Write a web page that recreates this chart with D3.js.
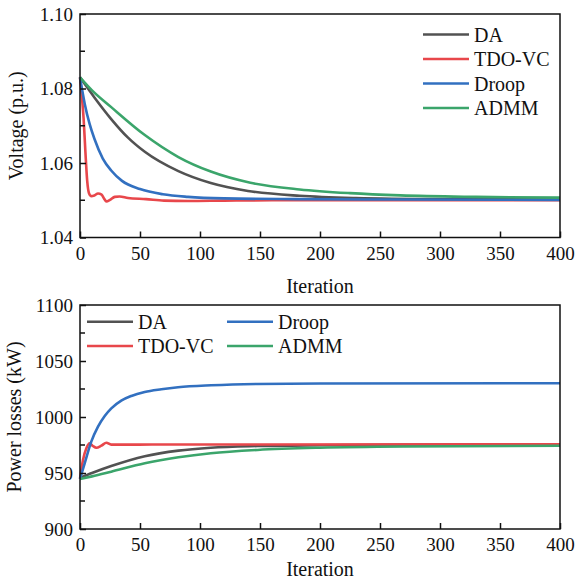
<!DOCTYPE html>
<html>
<head>
<meta charset="utf-8">
<script src="https://cdn.jsdelivr.net/npm/d3@7"></script>
</head>
<body style="margin:0">
<div id="chart"></div>
<script>
var svgWidth = 576;
var svgHeight = 581;
var fontName = "Liberation Serif";

// series names and colours
var names = ["DA", "TDO-VC", "Droop", "ADMM"];
var colors = ["#525252", "#e8474b", "#3270c0", "#3ba56b"];

// voltage (p.u.): [iteration, value]
var voltDA = [[0,1.0830],[12,1.0776],[26,1.0718],[40,1.0668],[54,1.0630],[82,1.0578],[109,1.0546],[140,1.0525],[183,1.0512],[230,1.0506],[300,1.0503],[400,1.0502]];
var voltTDO = [[0,1.083],[1.5,1.078],[3,1.072],[4.5,1.063],[6,1.0552],[7.5,1.0519],[9.5,1.0511],[12,1.0513],[15,1.0518],[18,1.0515],[20,1.0505],[22,1.0497],[25,1.0501],[29,1.0509],[33,1.0510],[40,1.0506],[55,1.0503],[70,1.0499],[90,1.0498],[120,1.0499],[160,1.0500],[250,1.0500],[400,1.0500]];
var voltDroop = [[0,1.0830],[4,1.0758],[8,1.0705],[12,1.0665],[19,1.0612],[26,1.0580],[35,1.0552],[50,1.0530],[69,1.0516],[90,1.0509],[120,1.0505],[180,1.0503],[260,1.0502],[400,1.0501]];
var voltADMM = [[0,1.0830],[10,1.0795],[26,1.0750],[54,1.0675],[82,1.0616],[109,1.0577],[142,1.0547],[183,1.0529],[225,1.0519],[267,1.0513],[330,1.0509],[400,1.0507]];

// power losses (kW)
var lossDA = [[0,945.8],[10,950],[26,956.2],[54,965],[82,970],[109,972.6],[148,974.1],[200,974.8],[270,975.2],[400,975.4]];
var lossTDO = [[0,945],[2.5,961.6],[5.3,972],[8.1,976.5],[10.8,974.1],[13.6,972.6],[17.8,974.4],[22,977],[26,975.3],[35,975.3],[60,975.4],[150,975.5],[400,975.6]];
var lossDroop = [[0,944.8],[3.9,958.6],[9.4,978],[15,991.4],[20.6,1000.9],[26.1,1007.7],[34.4,1014.6],[42.8,1018.8],[53.9,1022.3],[67.8,1024.7],[81.7,1026.5],[109.4,1028.3],[148,1029.5],[200,1029.9],[400,1030.2]];
var lossADMM = [[0,944.6],[10,947],[26,951.2],[54,958.7],[82,964],[109,967.6],[148,970.6],[200,972.6],[270,973.7],[400,974.3]];

var xTicks = [0, 50, 100, 150, 200, 250, 300, 350, 400];
var voltTicks = [1.04, 1.06, 1.08, 1.10];
var voltMinor = [1.05, 1.07, 1.09];
var lossTicks = [900, 950, 1000, 1050, 1100];
var lossMinor = [925, 975, 1025, 1075];

var svg = d3.select("#chart")
    .append("svg")
    .attr("width", svgWidth)
    .attr("height", svgHeight);

// every text gets the serif face explicitly
function serifText(sel, size) {
    sel.attr("font-family", fontName)
        .attr("font-size", size)
        .attr("fill", "#111");
}

function drawPanel(opt) {
    var x = d3.scaleLinear().domain([0, 400]).range([80, 560]);
    var y = d3.scaleLinear().domain(opt.domain).range([opt.bottom, opt.top]);
    var g = svg.append("g");

    // curves
    var line = d3.line()
        .x(d => x(d[0]))
        .y(d => y(d[1]))
        .curve(d3.curveMonotoneX);

    opt.series.forEach(function(s, i) {
        g.append("path")
            .datum(s)
            .attr("d", line)
            .attr("fill", "none")
            .attr("stroke", colors[i])
            .attr("stroke-width", 2.6)
            .attr("stroke-linejoin", "round");
    });

    // frame
    g.append("rect")
        .attr("x", 80).attr("y", opt.top)
        .attr("width", 480).attr("height", opt.bottom - opt.top)
        .attr("fill", "none").attr("stroke", "#111").attr("stroke-width", 1.5);

    // x axis, ticks pointing inward
    var xAxis = g.append("g")
        .attr("transform", `translate(0, ${opt.bottom})`)
        .call(d3.axisBottom(x).tickValues(xTicks).tickSize(-6).tickPadding(9).tickFormat(d3.format("d")));
    xAxis.select(".domain").remove();
    xAxis.selectAll("line").attr("stroke", "#111").attr("stroke-width", 1.5);
    serifText(xAxis.selectAll("text"), 19);

    // y axis
    var yAxis = g.append("g")
        .attr("transform", "translate(80, 0)")
        .call(d3.axisLeft(y).tickValues(opt.ticks).tickSize(-6).tickPadding(7).tickFormat(opt.format));
    yAxis.select(".domain").remove();
    yAxis.selectAll("line").attr("stroke", "#111").attr("stroke-width", 1.5);
    serifText(yAxis.selectAll("text"), 19);

    g.selectAll(".minor")
        .data(opt.minor)
        .enter().append("line")
        .attr("x1", 80).attr("x2", 85)
        .attr("y1", d => y(d)).attr("y2", d => y(d))
        .attr("stroke", "#111").attr("stroke-width", 1.5);

    // axis titles
    g.append("text")
        .attr("x", 320).attr("y", opt.bottom + opt.xTitleGap)
        .attr("text-anchor", "middle")
        .call(serifText, 20)
        .text("Iteration");

    g.append("text")
        .attr("transform", `translate(${opt.titleX}, ${(opt.top + opt.bottom) / 2}) rotate(-90)`)
        .attr("text-anchor", "middle")
        .call(serifText, 20)
        .text(opt.title);

    // legend
    var leg = g.selectAll(".leg")
        .data(names)
        .enter().append("g")
        .attr("transform", (d, i) => `translate(${opt.legend[i][0]}, ${opt.legend[i][1]})`);
    leg.append("line")
        .attr("x1", 0).attr("x2", 46)
        .attr("stroke", (d, i) => colors[i])
        .attr("stroke-width", 2.6);
    leg.append("text")
        .attr("x", 51).attr("dy", "0.35em")
        .call(serifText, 20)
        .text(d => d);
}

drawPanel({
    domain: [1.04, 1.10], top: 14, bottom: 237.5,
    ticks: voltTicks, minor: voltMinor, format: d3.format(".2f"),
    series: [voltDA, voltTDO, voltDroop, voltADMM],
    title: "Voltage (p.u.)", titleX: 23, xTitleGap: 55,
    legend: [[423, 34.5], [423, 59], [423, 83.5], [423, 108]]
});

drawPanel({
    domain: [900, 1100], top: 305, bottom: 529,
    ticks: lossTicks, minor: lossMinor, format: d3.format("d"),
    series: [lossDA, lossTDO, lossDroop, lossADMM],
    title: "Power losses (kW)", titleX: 21, xTitleGap: 47,
    legend: [[87, 321.7], [87, 346], [227, 321.7], [227, 346]]
});
</script>
</body>
</html>
